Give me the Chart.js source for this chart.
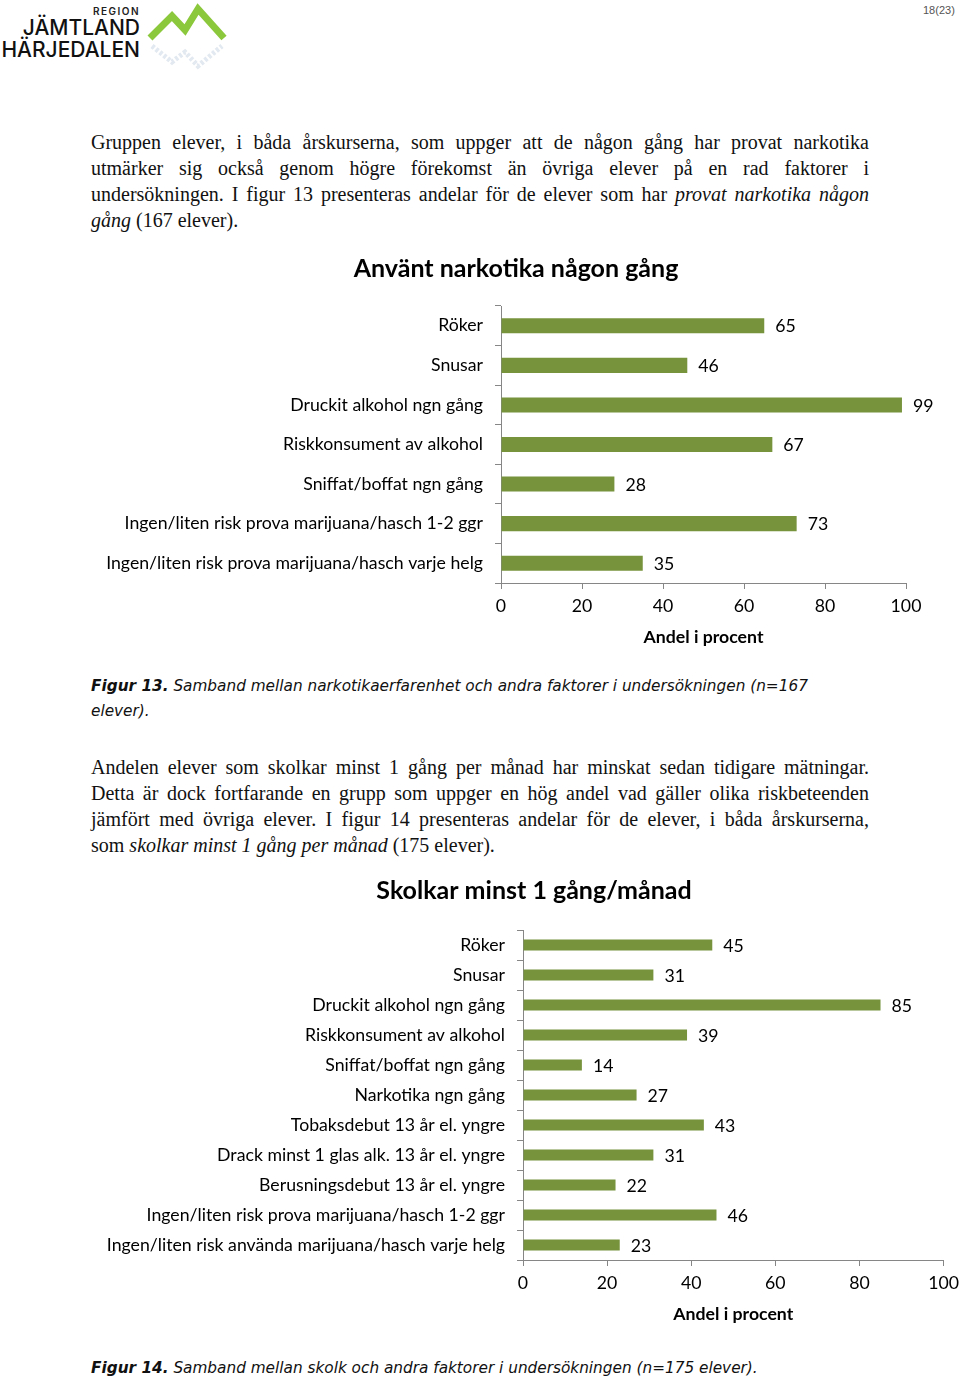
<!DOCTYPE html>
<html lang="sv">
<head>
<meta charset="utf-8">
<script src="https://cdn.jsdelivr.net/npm/chart.js@4.4.0/dist/chart.umd.min.js"></script>
<style>
  body { margin: 0; background: #fff; }
  #page { position: relative; width: 960px; height: 1378px; overflow: hidden; }
  .abs { position: absolute; }
  .txt { left: 91px; width: 778px; font-family: "Liberation Serif", serif; font-size: 20px; line-height: 26px; color: #111; }
  .txt div { text-align: justify; text-align-last: justify; white-space: nowrap; }
  .txt div.last { text-align-last: left; }
  .cap { left: 91px; font-family: "DejaVu Sans", sans-serif; font-style: italic; font-size: 15.3px; line-height: 25px; color: #111; }
  .cap b { font-weight: bold; }
  canvas { position: absolute; }
</style>
</head>
<body>
<div id="page">
  <!-- logo -->
  <svg class="abs" style="left:0;top:0" width="240" height="80">
    <text x="140" y="15" text-anchor="end" font-family="Inter, sans-serif" font-weight="600" font-size="10" letter-spacing="1.5" fill="#222">REGION</text>
    <text x="140" y="35" text-anchor="end" font-family="Inter, sans-serif" font-weight="500" font-size="21" fill="#111">JÄMTLAND</text>
    <text x="140" y="57" text-anchor="end" font-family="Inter, sans-serif" font-weight="500" font-size="21" fill="#111">HÄRJEDALEN</text>
    <polyline points="150,38 172,16 185,30 198,9 224,38" fill="none" stroke="#8cc83c" stroke-width="7" stroke-linejoin="miter"/>
    <polyline points="152,46 172,62 185,52 198,66 222,46" fill="none" stroke="#e3e9f0" stroke-width="5" stroke-dasharray="3 2"/>
  </svg>
  <div class="abs" style="left:923px;top:4px;font-family:'Liberation Sans',sans-serif;font-size:11px;color:#555">18(23)</div>

  <div class="abs txt" style="top:129px">
    <div>Gruppen elever, i båda årskurserna, som uppger att de någon gång har provat narkotika</div>
    <div>utmärker sig också genom högre förekomst än övriga elever på en rad faktorer i</div>
    <div>undersökningen. I figur 13 presenteras andelar för de elever som har <i>provat narkotika någon</i></div>
    <div class="last"><i>gång</i> (167 elever).</div>
  </div>

  <canvas id="chart1" width="852" height="410" style="left:90px;top:245px"></canvas>

  <div class="abs cap" style="top:674px;width:760px">
    <b>Figur 13.</b> Samband mellan narkotikaerfarenhet och andra faktorer i undersökningen (n=167<br>elever).
  </div>

  <div class="abs txt" style="top:754px">
    <div>Andelen elever som skolkar minst 1 gång per månad har minskat sedan tidigare mätningar.</div>
    <div>Detta är dock fortfarande en grupp som uppger en hög andel vad gäller olika riskbeteenden</div>
    <div>jämfört med övriga elever. I figur 14 presenteras andelar för de elever, i båda årskurserna,</div>
    <div class="last">som <i>skolkar minst 1 gång per månad</i> (175 elever).</div>
  </div>

  <canvas id="chart2" width="876" height="467" style="left:90px;top:865px"></canvas>

  <div class="abs cap" style="top:1356px;width:780px">
    <b>Figur 14.</b> Samband mellan skolk och andra faktorer i undersökningen (n=175 elever).
  </div>
</div>

<script>
// data for figur 13
const narkTitle = "Använt narkotika någon gång";
const narkLabels = ["Röker", "Snusar", "Druckit alkohol ngn gång", "Riskkonsument av alkohol",
  "Sniffat/boffat ngn gång", "Ingen/liten risk prova marijuana/hasch 1-2 ggr",
  "Ingen/liten risk prova marijuana/hasch varje helg"];
const narkValues = [65, 46, 99, 67, 28, 73, 35];

// data for figur 14
const skolkTitle = "Skolkar minst 1 gång/månad";
const skolkLabels = ["Röker", "Snusar", "Druckit alkohol ngn gång", "Riskkonsument av alkohol",
  "Sniffat/boffat ngn gång", "Narkotika ngn gång", "Tobaksdebut 13 år el. yngre",
  "Drack minst 1 glas alk. 13 år el. yngre", "Berusningsdebut 13 år el. yngre",
  "Ingen/liten risk prova marijuana/hasch 1-2 ggr",
  "Ingen/liten risk använda marijuana/hasch varje helg"];
const skolkValues = [45, 31, 85, 39, 14, 27, 43, 31, 22, 46, 23];

const xMin = 0, xMax = 100, xStep = 20;
const xTitle = "Andel i procent";

Chart.defaults.font.family = "Lato, sans-serif";
Chart.defaults.color = "#000";

const barGreen = "#77933c";
const axisGray = "#868686";
const labelSize = 17.7;

// writes the value right of every bar
const valueLabels = {
  id: "valueLabels",
  afterDatasetsDraw(chart) {
    const ctx = chart.ctx;
    ctx.save();
    ctx.font = labelSize + "px Lato, sans-serif";
    ctx.fillStyle = "#000";
    ctx.textBaseline = "middle";
    chart.getDatasetMeta(0).data.forEach((bar, i) => {
      ctx.fillText(chart.data.datasets[0].data[i], bar.x + 11, bar.y + 1);
    });
    ctx.restore();
  }
};

// excel centres the title over a different box, so move the title block after layout
const titleShift = {
  id: "titleShift",
  afterLayout(chart, args, opts) {
    const t = chart.titleBlock;
    const half = (t.right - t.left) / 2;
    t.left = opts.center - half;
    t.right = opts.center + half;
  }
};

function makeChart(id, title, labels, values, yWidth, padRight, titleCenter, titleTop, titleBottom, barPct) {
  new Chart(document.getElementById(id), {
    type: "bar",
    data: {
      labels: labels,
      datasets: [{ data: values, backgroundColor: barGreen, barPercentage: barPct, categoryPercentage: 1 }]
    },
    options: {
      indexAxis: "y",
      responsive: false,
      animation: false,
      layout: { padding: { left: 0, right: padRight, top: 0, bottom: 0 } },
      plugins: {
        legend: { display: false },
        tooltip: { enabled: false },
        title: {
          display: true, text: title,
          font: { size: 25, weight: "bold" },
          padding: { top: titleTop, bottom: titleBottom }
        },
        titleShift: { center: titleCenter }
      },
      scales: {
        x: {
          min: xMin, max: xMax,
          ticks: { stepSize: xStep, font: { size: labelSize }, padding: 7 },
          grid: { drawOnChartArea: false, drawTicks: true, tickLength: 6, color: axisGray },
          border: { color: axisGray },
          title: { display: true, text: xTitle, font: { size: labelSize, weight: "bold" }, padding: { top: 0, bottom: 7 } },
          afterFit(scale) { scale.height = 72; }
        },
        y: {
          ticks: { font: { size: labelSize }, padding: 12 },
          grid: { drawOnChartArea: false, drawTicks: true, tickLength: 6, offset: true, color: axisGray },
          border: { color: axisGray },
          afterFit(scale) { scale.width = yWidth; }
        }
      }
    },
    plugins: [valueLabels, titleShift]
  });
}

// chart 1: canvas 90..942, axis 501..906, title centre 516
makeChart("chart1", narkTitle, narkLabels, narkValues, 411, 36, 426, 9, 22, 0.38);
// chart 2: canvas 90..966, axis 523..943, title centre 534
makeChart("chart2", skolkTitle, skolkLabels, skolkValues, 433, 17, 444, 11, 24, 0.37);
</script>
</body>
</html>
